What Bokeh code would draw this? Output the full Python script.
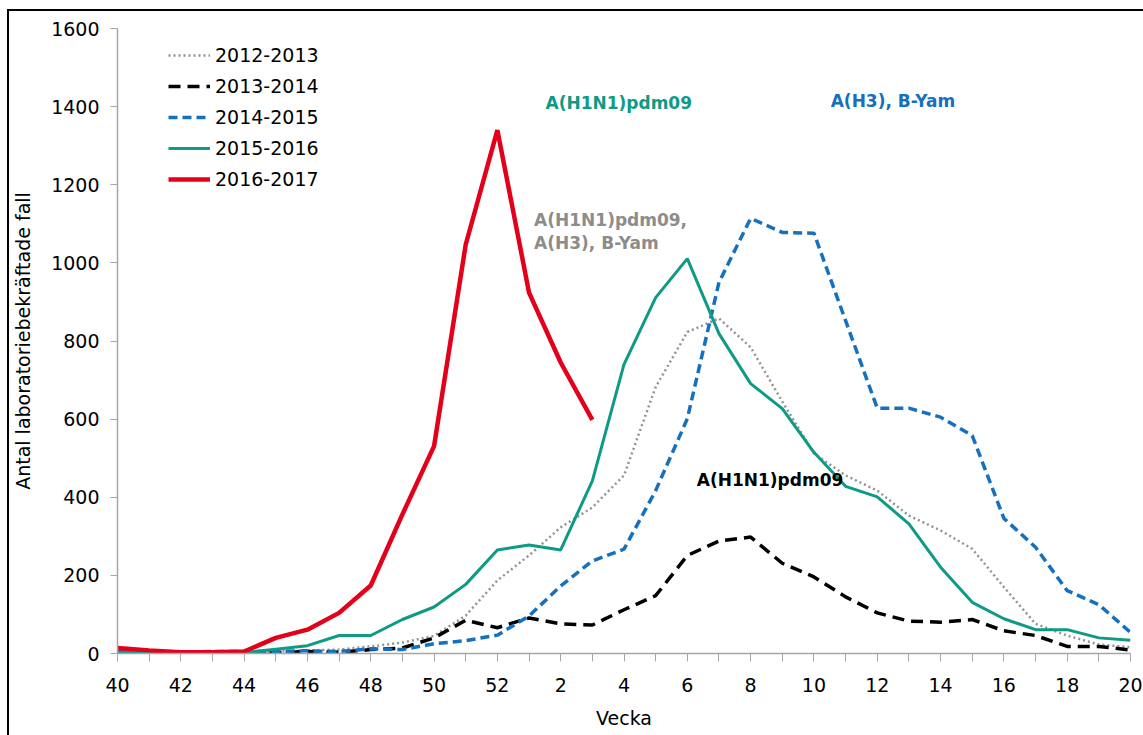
from bokeh.plotting import figure
from bokeh.models import Range1d, FixedTicker, Legend, LegendItem, Label
from bokeh.embed import file_html
from bokeh.resources import INLINE

# ---- data ----
weeks = list(range(40, 53)) + list(range(1, 21))
s2012_2013 = [2, 2, 2, 3, 3, 5, 8, 10, 18, 28, 45, 97, 187, 251, 323, 374, 456, 682, 823, 858,
              784, 645, 512, 456, 417, 353, 315, 268, 170, 76, 46, 23, 16]
s2013_2014 = [2, 2, 2, 3, 3, 2, 5, 3, 10, 14, 40, 85, 66, 91, 76, 73, 112, 148, 251, 288,
              298, 231, 196, 145, 104, 83, 80, 87, 58, 46, 18, 18, 9]
s2014_2015 = [5, 4, 3, 5, 5, 5, 7, 5, 12, 10, 25, 33, 47, 96, 173, 237, 267, 417, 601, 950,
              1114, 1078, 1076, 852, 628, 628, 605, 558, 346, 272, 161, 125, 54]
s2015_2016 = [3, 2, 1, 1, 2, 11, 20, 46, 46, 87, 119, 177, 265, 278, 265, 442, 740, 911, 1011, 819,
              691, 627, 515, 428, 401, 332, 221, 131, 89, 61, 61, 40, 34]
s2016_2017 = [14, 8, 3, 3, 5, 40, 61, 104, 174, 356, 531, 1047, 1340, 924, 745, 598]
season_names = ["2012-2013", "2013-2014", "2014-2015", "2015-2016", "2016-2017"]
y_ticks = [0, 200, 400, 600, 800, 1000, 1200, 1400, 1600]

FONT = "DejaVu Sans"
GREY = "#939393"
BLUE = "#1570BE"
TEAL = "#0E9A84"
RED = "#E2001A"

idx = list(range(len(weeks)))

p = figure(frame_width=1013, frame_height=625,
           min_border_left=108, min_border_right=13, min_border_top=17, min_border_bottom=82,
           x_range=Range1d(0, len(weeks) - 1), y_range=Range1d(0, 1600),
           output_backend="svg", toolbar_location=None)
p.styles = {"margin-left": "7px", "margin-top": "9px",
            "border-left": "2px solid #000000", "border-top": "2px solid #000000"}
p.outline_line_color = None
p.xgrid.visible = False
p.ygrid.visible = False
p.background_fill_color = "white"
p.border_fill_color = "white"

r1 = p.line(idx, s2012_2013, line_color=GREY, line_width=2.5, line_dash="2 3")
r2 = p.line(idx, s2013_2014, line_color="#000000", line_width=3.5, line_dash="12 7")
r3 = p.line(idx, s2014_2015, line_color=BLUE, line_width=3.5, line_dash="9 5")
r4 = p.line(idx, s2015_2016, line_color=TEAL, line_width=3)
r5 = p.line(idx[:len(s2016_2017)], s2016_2017, line_color=RED, line_width=4.5)

# axes
major = [i for i in idx if i % 2 == 0]
minor = [i for i in idx if i % 2 == 1]
xa = p.xaxis[0]
xa.ticker = FixedTicker(ticks=major, minor_ticks=minor)
xa.major_label_overrides = {i: str(weeks[i]) for i in major}
xa.axis_label = "Vecka"
ya = p.yaxis[0]
ya.ticker = FixedTicker(ticks=y_ticks)
ya.axis_label = "Antal laboratoriebekräftade fall"

for ax in (xa, ya):
    ax.axis_line_color = "#A6A6A6"
    ax.axis_line_width = 1.5
    ax.major_tick_line_color = "#A6A6A6"
    ax.minor_tick_line_color = "#A6A6A6"
    ax.major_tick_in = 0
    ax.minor_tick_in = 0
    ax.major_label_text_font = FONT
    ax.major_label_text_font_size = "19px"
    ax.major_label_text_color = "#000000"
    ax.axis_label_text_font = FONT
    ax.axis_label_text_font_size = "19px"
    ax.axis_label_text_font_style = "normal"
    ax.axis_label_text_color = "#000000"

xa.major_tick_out = 8
xa.minor_tick_out = 8
xa.major_label_standoff = 16
xa.axis_label_standoff = 12
ya.major_tick_out = 7
ya.minor_tick_out = 0
ya.minor_tick_line_color = None
ya.major_label_standoff = 11
ya.axis_label_standoff = 14

legend = Legend(items=[LegendItem(label=n, renderers=[r]) for n, r in zip(season_names, [r1, r2, r3, r4, r5])],
                location=(51, 460), orientation="vertical",
                glyph_width=42, glyph_height=28, label_height=28, spacing=3,
                label_standoff=5, padding=0, margin=0,
                border_line_color=None, background_fill_alpha=0,
                label_text_font=FONT, label_text_font_size="19px", label_text_color="#000000")
p.add_layout(legend)

ann = [
    ("A(H1N1)pdm09", 13.52, 1410, TEAL),
    ("A(H3), B-Yam", 22.53, 1415, BLUE),
    ("A(H1N1)pdm09,", 13.16, 1111, "#8C8C8C"),
    ("A(H3), B-Yam", 13.16, 1052, "#8C8C8C"),
    ("A(H1N1)pdm09", 18.3, 445, "#000000"),
]
for t, x, y, c in ann:
    p.add_layout(Label(x=x, y=y, text=t, text_color=c, text_font=FONT, text_font_size="17px",
                       text_font_style="bold", text_baseline="middle", text_align="left"))

open("out.html", "w").write(file_html(p, INLINE))
